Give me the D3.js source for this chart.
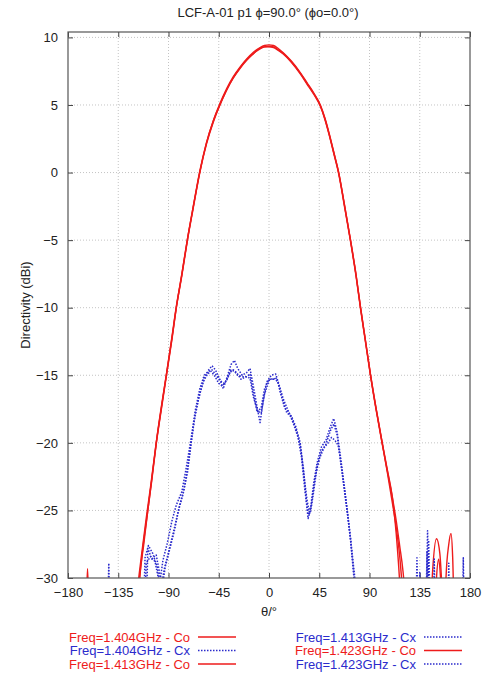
<!DOCTYPE html>
<html>
<head>
<meta charset="utf-8">
<script src="https://cdn.jsdelivr.net/npm/d3@7"></script>
<style>
  body { margin: 0; background: #fff; }
  svg { display: block; font-family: "Liberation Sans", Arial, sans-serif; }
</style>
</head>
<body>
<div id="chart"></div>
<script>
// ticks
const xTicks = [-180, -135, -90, -45, 0, 45, 90, 135, 180];
const yTicks = [-30, -25, -20, -15, -10, -5, 0, 5, 10];

// co-polar [theta, dBi]
const co1404 = [
  [-180, -40], [-120, -36], [-116, -30.2], [-112, -27.4], [-108.5, -25], [-105, -22.8], [-101, -20.1],
  [-96, -17.3], [-92, -15.1], [-87, -12.4], [-83, -10], [-78, -7.6], [-73, -5], [-68, -2.7],
  [-62, 0], [-56, 2.1], [-50, 3.7], [-44, 5.0], [-38, 6.1], [-32, 7.0], [-26, 7.7], [-20, 8.3],
  [-14, 8.8], [-8, 9.15], [-4, 9.3], [0, 9.35], [4, 9.3], [8, 9.1], [13, 8.8], [20, 8.2],
  [28, 7.35], [34, 6.6], [40, 5.85], [46, 4.95], [50, 4.0], [54, 2.8], [58, 1.5], [62.4, 0],
  [68, -2.6], [73, -5], [78, -7.6],
  [82, -10], [86.5, -12.5], [91, -15], [96, -17.5], [101.4, -20], [106, -22], [110.4, -24],
  [114, -26.8], [117, -30.3], [120, -36], [143, -36], [146.5, -29.5], [150, -27.1], [153, -28.2],
  [156, -32], [180, -40]
];
const co1413 = [
  [-180, -40], [-164.5, -34], [-162.5, -29.3], [-160.5, -34], [-125, -38], [-118, -31],
  [-114, -28.2], [-110, -25.6], [-106, -23.2], [-101, -20], [-96, -17.2], [-92, -15],
  [-87, -12.3], [-83, -10], [-78, -7.5], [-73, -4.9], [-68, -2.6], [-62, 0.1], [-56, 2.2],
  [-50, 3.8], [-44, 5.1], [-38, 6.2], [-32, 7.1], [-26, 7.8], [-20, 8.4], [-14, 8.9],
  [-8, 9.25], [-4, 9.4], [0, 9.45], [4, 9.4], [8, 9.2], [13, 8.85], [20, 8.25], [28, 7.4],
  [34, 6.65], [40, 5.9], [46, 5.0], [50, 4.05], [54, 2.85], [58, 1.5], [62.4, 0],
  [68, -2.6], [73, -5], [78, -7.6], [82, -10],
  [86.5, -12.5], [91, -15], [96, -17.5], [101.4, -20], [106, -22.2], [110, -24.2],
  [114, -26.3], [117.5, -28.8], [119.5, -31], [123, -38], [147, -38], [150, -30], [152, -28.6],
  [154, -30.5], [157, -36], [180, -40]
];
const co1423 = [
  [-180, -40], [-122, -38], [-117, -31], [-113, -27.8], [-109, -25.3], [-105, -22.7],
  [-101, -20], [-96, -17.1], [-92, -15], [-87, -12.2], [-83, -9.9], [-78, -7.5], [-73, -4.9],
  [-68, -2.6], [-62, 0], [-56, 2.2], [-50, 3.8], [-44, 5.0], [-38, 6.1], [-32, 7.0], [-26, 7.75],
  [-20, 8.35], [-14, 8.8], [-8, 9.2], [-4, 9.3], [0, 9.3], [4, 9.25], [8, 9.05], [13, 8.75],
  [20, 8.15], [28, 7.3], [34, 6.55], [40, 5.8], [46, 4.9], [50, 3.95], [54, 2.75], [58, 1.4],
  [62.4, -0.1], [68, -2.7],
  [73, -5.1], [78, -7.7], [82, -10.1], [86.5, -12.6], [91, -15.1], [96, -17.6], [101.4, -20.1],
  [106, -22.1], [110.4, -24], [114, -25.8], [117, -27.6], [120, -29.5], [122.5, -32],
  [126, -38], [156, -38], [158.5, -30], [161, -27.5], [163, -26.7], [164.5, -28.5],
  [166, -33], [180, -40]
];

// cross-polar [theta, dBi]
const cx1404 = [
  [-180, -40], [-146, -40], [-143.5, -28.9], [-141, -40], [-115, -40], [-111, -28.5],
  [-108, -27.6], [-104, -28.2], [-100, -29.2], [-97, -31], [-94, -29.4], [-90, -28.1],
  [-85, -26.4], [-80, -24.6], [-76, -23.4], [-72, -21.4], [-69, -19.5], [-66, -17.8],
  [-62, -16.4], [-58, -15.2], [-54, -14.6], [-51, -14.3], [-48, -14.6], [-44, -15.3],
  [-41, -16], [-37, -15], [-34, -14.2], [-31, -13.9], [-28, -14.5], [-24, -15], [-20, -14.8],
  [-17, -14.5], [-14, -15.8], [-11, -17.2], [-8, -18.5], [-5, -16.8], [-2, -15.5], [2, -15],
  [6, -14.9], [9, -15.7], [13, -16.8], [17, -17.6], [21, -18.3], [25, -19.2], [28, -20.2],
  [31, -22], [33, -24], [35, -25.6], [37, -25], [40, -23], [43, -21.5], [47, -20.3],
  [51, -19.8], [55, -18.8], [58, -18.2], [61, -19.2], [64, -21], [67, -23], [70, -25],
  [73, -27.2], [77, -30.5], [79, -40], [130, -40], [132.5, -28.5], [135, -40], [139, -40],
  [142, -26.5], [145, -40], [172, -40], [174, -28.5], [176, -40], [180, -40]
];
const cx1413 = [
  [-180, -40], [-114, -40], [-110, -28.9], [-106, -28.4], [-102, -28.8], [-98, -30.5],
  [-95, -28.7], [-91, -27.4], [-87, -25.8], [-83, -24.6], [-78, -23.6], [-74, -21.8],
  [-70, -19.8], [-66, -17.6], [-62, -16], [-58, -15], [-54, -14.7], [-51, -14.6],
  [-48, -14.9], [-44, -15.4], [-40, -15.6], [-37, -15.2], [-34, -14.6], [-31, -14.7],
  [-28, -15], [-24, -15.1], [-20, -15.1], [-17, -14.9], [-14, -16.3], [-11, -17.6],
  [-7, -17.8], [-4, -16.4], [0, -15.4], [4, -15.2], [8, -15.5], [12, -16.8], [16, -17.8],
  [20, -18], [24, -18.8], [28, -20], [31, -22.2], [34, -24.2], [36, -25.1], [38, -24.6],
  [41, -22.7], [45, -21.2], [49, -20.4], [53, -20], [56, -19.6], [59, -19.8], [62, -20.2],
  [65, -21.8], [68, -23.6], [71, -25.6], [74, -27.8], [77.5, -30.5], [80, -40], [133, -40],
  [135, -29.6], [137, -40], [140, -40], [143, -27.2], [146, -40], [159, -40], [161, -28.9],
  [163, -40], [180, -40]
];
const cx1423 = [
  [-180, -40], [-112, -40], [-108.5, -27.8], [-105, -28.6], [-101, -28.3], [-98, -29.6],
  [-96, -31], [-93, -29.2], [-89, -27.9], [-85, -26.6], [-81, -25], [-77, -23.8],
  [-73, -22.2], [-70, -20.2], [-67, -18.4], [-63, -16.7], [-59, -15.5], [-55, -14.9],
  [-52, -14.7], [-49, -15], [-45, -15.6], [-42, -15.8], [-38, -15.4], [-35, -14.8],
  [-32, -14.6], [-29, -14.8], [-25, -15.3], [-21, -15.1], [-17, -15.2], [-14, -16.6],
  [-10, -17.7], [-7, -17.4], [-4, -16], [0, -15.3], [4, -15.3], [7, -15.2], [10, -16.2],
  [14, -17.4], [18, -17.8], [22, -18.6], [26, -19.6], [29, -21], [32, -23.4], [35, -25.3],
  [37, -25.2], [40, -23.6], [43, -21.8], [47, -20.6], [51, -20.1], [55, -19.1], [58, -18.6],
  [61, -19.4], [64, -21.3], [67, -23.2], [70, -25.1], [73, -27.1], [76.5, -30.4], [79, -40],
  [139, -40], [141.5, -28], [144, -40], [146, -40], [148, -28.6], [150, -40], [180, -40]
];

const series = [
  { label: 'Freq=1.404GHz - Co', data: co1404, kind: 'co' },
  { label: 'Freq=1.404GHz - Cx', data: cx1404, kind: 'cx' },
  { label: 'Freq=1.413GHz - Co', data: co1413, kind: 'co' },
  { label: 'Freq=1.413GHz - Cx', data: cx1413, kind: 'cx' },
  { label: 'Freq=1.423GHz - Co', data: co1423, kind: 'co' },
  { label: 'Freq=1.423GHz - Cx', data: cx1423, kind: 'cx' },
];

const width = 486;
const height = 673;
const margin = { t: 32, r: 16, b: 95, l: 68 };
const red = '#ee1b1b';
const blue = '#2b2bcc';
const fs = 13;

const svg = d3.select('#chart').append('svg').attr('width', width).attr('height', height);

const x = d3.scaleLinear().domain([-180, 180]).range([margin.l, width - margin.r]);
const y = d3.scaleLinear().domain([-30, 10.4]).range([height - margin.b, margin.t]);

// title
svg.append('text')
  .attr('x', 268).attr('y', 17)
  .attr('text-anchor', 'middle').attr('font-size', fs).attr('fill', '#222')
  .text('LCF-A-01 p1 \u03d5=90.0\u00b0 (\u03d5o=0.0\u00b0)');

// grid
const grid = svg.append('g').attr('stroke', '#c4c4c4').attr('stroke-dasharray', '1,2');
grid.selectAll('.gx').data(xTicks.slice(1, -1)).join('line')
  .attr('x1', (d) => x(d)).attr('x2', (d) => x(d))
  .attr('y1', y.range()[1]).attr('y2', y.range()[0]);
grid.selectAll('.gy').data(yTicks.slice(1)).join('line')
  .attr('x1', x.range()[0]).attr('x2', x.range()[1])
  .attr('y1', (d) => y(d)).attr('y2', (d) => y(d));

// axes (ticks inward, mirrored)
function styleAxis(g) {
  g.select('.domain').remove();
  g.selectAll('.tick line').attr('stroke', '#444');
  g.selectAll('.tick text').attr('fill', '#222').attr('font-size', fs)
    .attr('font-family', '"Liberation Sans", Arial, sans-serif');
}
svg.append('g').attr('transform', `translate(0,${y(-30)})`)
  .call(d3.axisBottom(x).tickValues(xTicks).tickSizeInner(-5).tickSizeOuter(0).tickPadding(10))
  .call(styleAxis);
svg.append('g').attr('transform', `translate(0,${y.range()[1]})`)
  .call(d3.axisTop(x).tickValues(xTicks).tickSizeInner(-5).tickSizeOuter(0).tickFormat(''))
  .call(styleAxis);
svg.append('g').attr('transform', `translate(${x(-180)},0)`)
  .call(d3.axisLeft(y).tickValues(yTicks).tickSizeInner(-5).tickSizeOuter(0).tickPadding(10))
  .call(styleAxis);
svg.append('g').attr('transform', `translate(${x(180)},0)`)
  .call(d3.axisRight(y).tickValues(yTicks).tickSizeInner(-5).tickSizeOuter(0).tickFormat(''))
  .call(styleAxis);

// clip
svg.append('clipPath').attr('id', 'plot-clip').append('rect')
  .attr('x', x(-180)).attr('y', y.range()[1])
  .attr('width', x(180) - x(-180)).attr('height', y(-30) - y.range()[1]);

const coLine = d3.line().x((d) => x(d[0])).y((d) => y(d[1])).curve(d3.curveMonotoneX);
const cxLine = d3.line().x((d) => x(d[0])).y((d) => y(d[1]));
const plot = svg.append('g').attr('clip-path', 'url(#plot-clip)');
plot.selectAll('path')
  .data(series)
  .join('path')
  .attr('d', (d) => (d.kind === 'co' ? coLine(d.data) : cxLine(d.data)))
  .attr('fill', 'none')
  .attr('stroke', (d) => (d.kind === 'co' ? red : blue))
  .attr('stroke-width', (d) => (d.kind === 'co' ? 1.4 : 1.5))
  .attr('stroke-dasharray', (d) => (d.kind === 'co' ? null : '1.5,1.5'))
  .attr('stroke-linejoin', 'round');

// frame
svg.append('rect')
  .attr('x', x(-180)).attr('y', y.range()[1])
  .attr('width', x(180) - x(-180)).attr('height', y(-30) - y.range()[1])
  .attr('fill', 'none').attr('stroke', '#555').attr('stroke-width', 1.2);

// axis labels
svg.append('text')
  .attr('x', x(0)).attr('y', 616)
  .attr('text-anchor', 'middle').attr('font-size', fs).attr('fill', '#222')
  .text('\u03b8/\u00b0');
svg.append('text')
  .attr('transform', `translate(30,${(y(-30) + y(10.4)) / 2}) rotate(-90)`)
  .attr('text-anchor', 'middle').attr('font-size', fs).attr('fill', '#222')
  .text('Directivity (dBi)');

// legend
const legend = svg.append('g').attr('font-size', fs);
const legendItems = legend.selectAll('g')
  .data(series)
  .join('g')
  .attr('transform', (d, i) => {
    const col = i < 3 ? 0 : 1;
    const row = i % 3;
    return `translate(${col === 0 ? 190 : 416},${637 + row * 13.5})`;
  });
legendItems.append('text')
  .attr('text-anchor', 'end').attr('dy', '0.35em')
  .attr('fill', (d) => (d.kind === 'co' ? red : blue))
  .text((d) => d.label);
legendItems.append('line')
  .attr('x1', 8).attr('x2', 46).attr('y1', 0).attr('y2', 0)
  .attr('stroke', (d) => (d.kind === 'co' ? red : blue))
  .attr('stroke-width', (d) => (d.kind === 'co' ? 1.4 : 1.5))
  .attr('stroke-dasharray', (d) => (d.kind === 'co' ? null : '1.5,1.5'));
</script>
</body>
</html>
